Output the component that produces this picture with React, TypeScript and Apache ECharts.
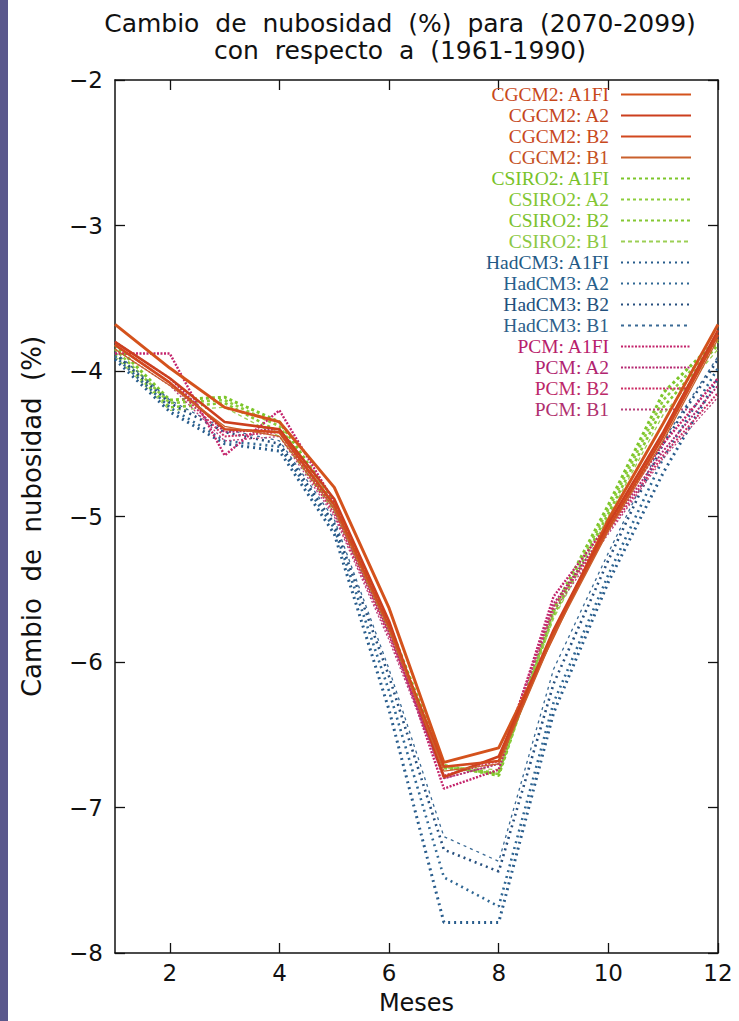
import React, { useEffect, useRef } from "react";
import * as echarts from "echarts";

const months = [1, 2, 3, 4, 5, 6, 7, 8, 9, 10, 11, 12];
const xTickValues = [2, 4, 6, 8, 10, 12];

const seriesNames = [
  "CGCM2: A1FI", "CGCM2: A2", "CGCM2: B2", "CGCM2: B1",
  "CSIRO2: A1FI", "CSIRO2: A2", "CSIRO2: B2", "CSIRO2: B1",
  "HadCM3: A1FI", "HadCM3: A2", "HadCM3: B2", "HadCM3: B1",
  "PCM: A1FI", "PCM: A2", "PCM: B2", "PCM: B1",
];

const cgcm2A1FI = [-3.68, -3.98, -4.25, -4.35, -4.8, -5.63, -6.69, -6.59, -5.82, -5.02, -4.36, -3.68];
const cgcm2A2 = [-3.8, -4.05, -4.35, -4.4, -4.88, -5.72, -6.79, -6.65, -5.78, -5.05, -4.42, -3.72];
const cgcm2B2 = [-3.82, -4.08, -4.4, -4.42, -4.92, -5.76, -6.72, -6.68, -5.8, -5.08, -4.45, -3.75];
const cgcm2B1 = [-3.85, -4.1, -4.38, -4.45, -4.95, -5.78, -6.75, -6.7, -5.82, -5.1, -4.48, -3.78];

const csiro2A1FI = [-3.82, -4.2, -4.18, -4.35, -4.9, -5.74, -6.71, -6.78, -5.64, -4.92, -4.15, -3.78];
const csiro2A2 = [-3.85, -4.22, -4.2, -4.38, -4.93, -5.76, -6.72, -6.77, -5.66, -4.95, -4.2, -3.8];
const csiro2B2 = [-3.88, -4.25, -4.22, -4.42, -4.95, -5.78, -6.73, -6.76, -5.68, -4.98, -4.25, -3.82];
const csiro2B1 = [-3.9, -4.27, -4.25, -4.45, -4.97, -5.8, -6.72, -6.74, -5.7, -5.0, -4.3, -3.85];

const hadA1FI = [-3.92, -4.28, -4.5, -4.55, -5.12, -6.33, -7.79, -7.79, -6.35, -5.45, -4.7, -4.05];
const hadA2 = [-3.9, -4.25, -4.48, -4.52, -5.08, -6.2, -7.48, -7.68, -6.28, -5.4, -4.6, -3.98];
const hadB2 = [-3.88, -4.22, -4.42, -4.5, -5.05, -6.1, -7.29, -7.44, -6.15, -5.3, -4.5, -3.92];
const hadB1 = [-3.87, -4.2, -4.4, -4.48, -5.02, -6.05, -7.2, -7.37, -6.05, -5.25, -4.48, -3.9];

const pcmA1FI = [-3.88, -3.88, -4.58, -4.27, -4.9, -5.75, -6.87, -6.74, -5.55, -5.05, -4.5, -4.05];
const pcmA2 = [-3.8, -4.05, -4.42, -4.4, -4.95, -5.8, -6.8, -6.7, -5.6, -5.08, -4.55, -4.1];
const pcmB2 = [-3.82, -4.08, -4.45, -4.42, -4.98, -5.82, -6.78, -6.68, -5.62, -5.1, -4.58, -4.15];
const pcmB1 = [-3.85, -4.1, -4.48, -4.45, -5.0, -5.85, -6.8, -6.7, -5.65, -5.12, -4.6, -4.18];

const seriesValues = [
  cgcm2A1FI, cgcm2A2, cgcm2B2, cgcm2B1,
  csiro2A1FI, csiro2A2, csiro2B2, csiro2B1,
  hadA1FI, hadA2, hadB2, hadB1,
  pcmA1FI, pcmA2, pcmB2, pcmB1,
];

const colors = [
  "#d4521c", "#cc3f1e", "#d2481f", "#c9602c",
  "#7cc62a", "#8ccd3c", "#84c832", "#9ccf55",
  "#285c8c", "#2f6794", "#264f7e", "#3a6a95",
  "#c4246c", "#b52a72", "#cc2f66", "#b8407a",
];
const legendTextColors = [
  "#c8481a", "#c4461c", "#c8481c", "#c4501e",
  "#78c228", "#82c632", "#7cc22e", "#8cc844",
  "#235a86", "#27608c", "#22507c", "#2e5f8a",
  "#b8206a", "#b02470", "#bc2868", "#b0306e",
];

const widths = [3, 2.6, 2.6, 1.3, 3, 2.6, 2.6, 1.3, 3, 2.6, 2.6, 1.3, 2.4, 2, 2, 1.3];
const dashes: any[] = [
  "solid", "solid", "solid", "solid",
  [3, 3], [3, 3], [3, 3], [4, 3],
  [2, 4], [2, 4], [2, 4], [3, 4],
  [2, 1.5], [2, 1.5], [2, 1.5], [2, 2],
];

const yMin = -8;
const yMax = -2;

export default function App() {
  const ref = useRef<HTMLDivElement>(null);
  useEffect(() => {
    document.body.style.margin = "0";
    const chart = echarts.init(ref.current!, null, { renderer: "svg" });
    const minus = (v: number) => String(v).replace("-", "\u2212");
    const axisLine = { show: true, lineStyle: { color: "#111", width: 1.5 } };
    const series = seriesNames.map((name, i) => ({
      name,
      type: "line",
      xAxisIndex: 0,
      yAxisIndex: 0,
      symbol: "none",
      data: months.map((m, j) => [m, seriesValues[i][j]]),
      lineStyle: { color: colors[i], width: widths[i], type: dashes[i] },
      itemStyle: { color: colors[i] },
      z: i < 4 ? 5 : 3,
    }));
    const font = "DejaVu Sans";
    chart.setOption({
      animation: false,
      backgroundColor: "#fff",
      title: {
        text: "Cambio  de  nubosidad  (%)  para  (2070-2099)\ncon  respecto  a  (1961-1990)",
        left: 395,
        top: 5,
        textAlign: "center",
        textStyle: {
          fontFamily: font,
          fontWeight: "normal",
          fontSize: 25,
          lineHeight: 27,
          color: "#111",
        },
      },
      legend: {
        orient: "vertical",
        right: 42,
        top: 79,
        align: "right",
        itemWidth: 70,
        itemHeight: 14,
        itemGap: 0,
        itemStyle: { opacity: 0 },
        data: seriesNames.map((n, i) => ({
          name: n,
          textStyle: { color: legendTextColors[i] },
        })),
        textStyle: {
          fontFamily: "Liberation Serif",
          fontSize: 19.5,
          lineHeight: 21,
          padding: [0, 7, 0, 0],
        },
      },
      graphic: [
        {
          type: "rect",
          left: 0,
          top: 0,
          shape: { width: 8, height: 1021 },
          style: { fill: "#5a588c" },
        },
      ],
      grid: { left: 115, right: 21, top: 80, bottom: 68 },
      xAxis: [
        {
          type: "value",
          min: 1,
          max: 12,
          position: "bottom",
          name: "Meses",
          nameLocation: "middle",
          nameGap: 38,
          nameTextStyle: { fontFamily: font, fontSize: 24, color: "#111" },
          axisLine,
          splitLine: { show: false },
          axisTick: { show: true, inside: true, length: 10, customValues: xTickValues, lineStyle: { color: "#111", width: 1.3 } },
          axisLabel: { customValues: xTickValues, fontFamily: font, fontSize: 23, color: "#111", margin: 8 },
        },
        {
          type: "value",
          min: 1,
          max: 12,
          position: "top",
          axisLine,
          splitLine: { show: false },
          axisTick: { show: true, inside: true, length: 10, customValues: xTickValues, lineStyle: { color: "#111", width: 1.3 } },
          axisLabel: { show: false },
        },
      ],
      yAxis: [
        {
          type: "value",
          min: yMin,
          max: yMax,
          interval: 1,
          position: "left",
          name: "Cambio  de  nubosidad  (%)",
          nameLocation: "middle",
          nameGap: 70,
          nameTextStyle: { fontFamily: font, fontSize: 26, color: "#111" },
          axisLine,
          splitLine: { show: false },
          axisTick: { show: true, inside: true, length: 10, lineStyle: { color: "#111", width: 1.3 } },
          axisLabel: { formatter: minus, fontFamily: font, fontSize: 23, color: "#111", margin: 12 },
        },
        {
          type: "value",
          min: yMin,
          max: yMax,
          interval: 1,
          position: "right",
          axisLine,
          splitLine: { show: false },
          axisTick: { show: true, inside: true, length: 10, lineStyle: { color: "#111", width: 1.3 } },
          axisLabel: { show: false },
        },
      ],
      series,
    });
    return () => chart.dispose();
  }, []);
  return <div ref={ref} style={{ width: 739, height: 1021 }} />;
}
